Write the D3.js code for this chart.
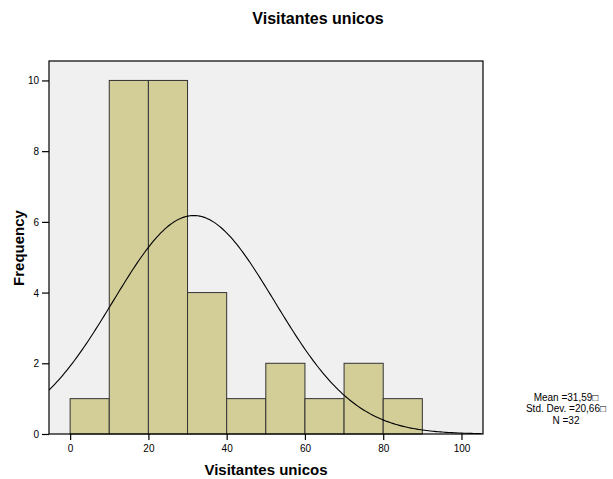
<!DOCTYPE html>
<html>
<head>
<meta charset="utf-8">
<script src="https://cdn.jsdelivr.net/npm/d3@7"></script>
<style>
  body { margin: 0; background: #fff; }
  svg text { font-family: "Liberation Sans", Arial, sans-serif; }
</style>
</head>
<body>
<div id="hist"></div>
<script>
// bins of 10, counts
const binStarts = [0, 10, 20, 30, 40, 50, 60, 70, 80]
const counts = [1, 10, 10, 4, 1, 2, 1, 2, 1]
const xTicks = [0, 20, 40, 60, 80, 100]
const yTicks = [0, 2, 4, 6, 8, 10]
const stats = { mean: 31.59, sd: 20.66, n: 32 }
const statLabels = ["Mean =31,59\u25A1", "Std. Dev. =20,66\u25A1", "N =32"]

const svgWidth = 613, svgHeight = 479
const margin = {top: 61, left: 49, right: 130, bottom: 45}
const width = svgWidth - margin.left - margin.right
const height = svgHeight - margin.top - margin.bottom

let svg = d3.select('#hist')
    .append('svg')
    .attr('width', svgWidth)
    .attr('height', svgHeight)

let chart = svg.append('g')
    .attr("transform", "translate(" + margin.left + "," + margin.top + ")")

let xScale = d3.scaleLinear()
    .domain([-5.4, 105.5])
    .range([0, width])

let yScale = d3.scaleLinear()
    .domain([0, 10.55])
    .range([height, 0])

chart.append('rect')
    .attr('width', width)
    .attr('height', height)
    .attr('fill', '#f0f0f0')

let bins = binStarts.map((s, i) => ({x0: s, x1: s + 10, count: counts[i]}))

chart.selectAll('.bar')
    .data(bins)
    .join('rect')
    .attr('class', 'bar')
    .attr('x', d => xScale(d.x0))
    .attr('y', d => yScale(d.count))
    .attr('width', d => xScale(d.x1) - xScale(d.x0))
    .attr('height', d => height - yScale(d.count))
    .attr('fill', '#d3ce98')
    .attr('stroke', '#333')
    .attr('stroke-width', 1)

// normal curve scaled to counts (bin width 10)
chart.append('clipPath').attr('id', 'clip')
    .append('rect').attr('width', width).attr('height', height)

let xs = d3.range(-5.4, 105.6, 0.5)
let curve = xs.map(x => ({x: x, y: stats.n * 10 / (stats.sd * Math.sqrt(2 * Math.PI)) * Math.exp(-0.5 * Math.pow((x - stats.mean) / stats.sd, 2))}))

chart.append('path')
    .datum(curve)
    .attr('clip-path', 'url(#clip)')
    .attr('fill', 'none')
    .attr('stroke', '#000')
    .attr('stroke-width', 1.1)
    .attr('d', d3.line().x(d => xScale(d.x)).y(d => yScale(d.y)))

chart.append('rect')
    .attr('width', width)
    .attr('height', height)
    .attr('fill', 'none')
    .attr('stroke', '#000')
    .attr('stroke-width', 1.2)

let xAxis = chart.append("g")
    .attr("transform", `translate(0,${height})`)
    .call(d3.axisBottom(xScale).tickValues(xTicks).tickSize(6).tickSizeOuter(0))
xAxis.select('.domain').remove()
xAxis.selectAll('text').attr('font-size', 10).attr('font-family', null).attr('fill', '#000').attr('y', 11).attr('dy', '0.71em')

let yAxis = chart.append("g")
    .call(d3.axisLeft(yScale).tickValues(yTicks).tickSize(7).tickSizeOuter(0))
yAxis.select('.domain').remove()
yAxis.selectAll('text').attr('font-size', 10).attr('font-family', null).attr('fill', '#000').attr('dy', '0.35em').attr('x', -10)
yAxis.selectAll('line').attr('stroke-width', 1.2)
xAxis.selectAll('line').attr('stroke-width', 1.2)

svg.append('text')
    .attr('x', 318).attr('y', 24)
    .attr('text-anchor', 'middle')
    .attr('font-size', 16).attr('font-weight', 'bold')
    .text('Visitantes unicos')

svg.append('text')
    .attr('x', margin.left + width / 2).attr('y', 475)
    .attr('text-anchor', 'middle')
    .attr('font-size', 15).attr('font-weight', 'bold')
    .text('Visitantes unicos')

svg.append('text')
    .attr('transform', `translate(23.5,248) rotate(-90)`)
    .attr('text-anchor', 'middle')
    .attr('font-size', 15).attr('font-weight', 'bold')
    .text('Frequency')

svg.selectAll('.stat')
    .data(statLabels)
    .join('text')
    .attr('class', 'stat')
    .attr('x', 566)
    .attr('y', (d, i) => [400.5, 412, 423.5][i])
    .attr('text-anchor', 'middle')
    .attr('font-size', 10)
    .text(d => d)
</script>
</body>
</html>
